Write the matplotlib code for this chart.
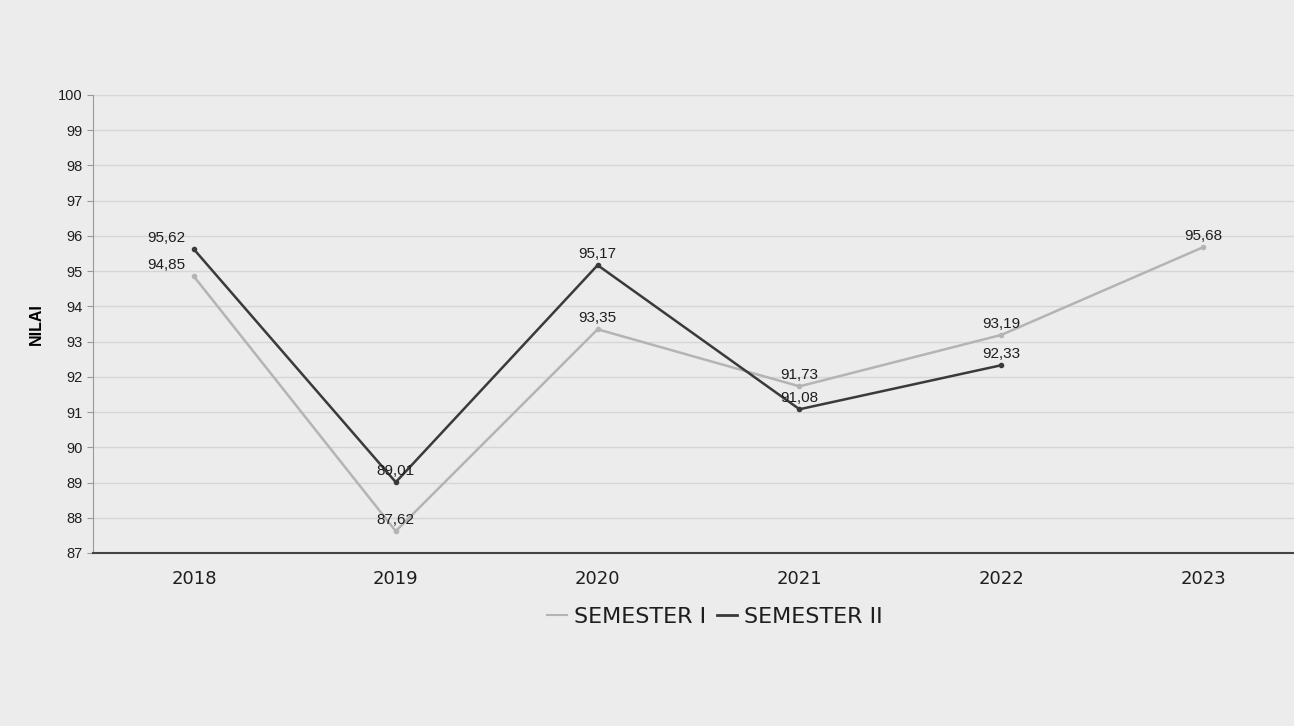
import matplotlib.pyplot as plt
from matplotlib.lines import Line2D

years = ["2018", "2019", "2020", "2021", "2022", "2023"]
sem1 = [94.85, 87.62, 93.35, 91.73, 93.19, 95.68]
sem2 = [95.62, 89.01, 95.17, 91.08, 92.33]
yticks = list(range(87, 101))

c1 = "#b4b4b4"
c2 = "#3a3a3a"

def fmt(v):
    return ("%.2f" % v).replace(".", ",")

fig = plt.figure(figsize=(12.94, 7.26), dpi=100)
fig.patch.set_facecolor("#ececec")
ax = fig.add_axes([93 / 1294, 1 - 553 / 726, 1 - 93 / 1294, (553 - 95) / 726])
ax.set_facecolor("#ececec")

ax.plot(range(len(sem1)), sem1, color=c1, lw=1.8, marker="o", ms=3)
ax.plot(range(len(sem2)), sem2, color=c2, lw=1.8, marker="o", ms=3)

# value labels sit just above each point, first year nudged left
for series in (sem1, sem2):
    for i, v in enumerate(series):
        dx = -20 if i == 0 else 0
        ax.annotate(fmt(v), (i, v), xytext=(dx, 3), textcoords="offset points",
                    ha="center", va="bottom", fontsize=11, family="Liberation Sans", color="#1e1e1e")

ax.set_xlim(-0.5, 5.45)
ax.set_ylim(87, 100)
ax.set_yticks(yticks)
ax.set_yticklabels([str(t) for t in yticks], fontsize=10.5, family="Liberation Sans", color="#1e1e1e")
ax.set_xticks(range(len(years)))
ax.set_xticklabels(years, fontsize=13, color="#1e1e1e")
ax.tick_params(axis="x", length=0, pad=12)
ax.tick_params(axis="y", length=4, color="#999")
ax.grid(axis="y", color="#d6d6d6", lw=1)
ax.set_axisbelow(True)
for s in ["top", "right"]:
    ax.spines[s].set_visible(False)
ax.spines["left"].set_color("#999")
ax.spines["bottom"].set_color("#444")
ax.spines["bottom"].set_linewidth(1.5)
ax.set_ylabel("NILAI", fontsize=11.5, fontweight="bold", family="Liberation Sans", labelpad=10)

handles = [Line2D([], [], color=c1, lw=1.5), Line2D([], [], color=c2, lw=2)]
fig.legend(handles, ["SEMESTER I", "SEMESTER II"], loc="center",
           bbox_to_anchor=(715 / 1294, 1 - 617 / 726), ncol=2, frameon=False,
           fontsize=16, handlelength=0.9, handletextpad=0.3, columnspacing=0.5,
           labelcolor="#1e1e1e")

fig.savefig("out.png", dpi=100, facecolor=fig.get_facecolor())
